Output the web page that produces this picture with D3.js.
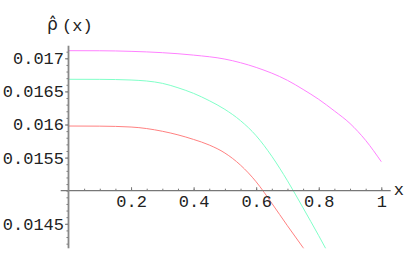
<!DOCTYPE html>
<html>
<head>
<meta charset="utf-8">
<script src="https://cdn.jsdelivr.net/npm/d3@7"></script>
<style>
  body { margin: 0; background: #fff; }
  svg { display: block; }
  .tick text { font-family: "Liberation Mono", monospace; font-size: 17px; fill: #222; }
</style>
</head>
<body>
<div id="chart"></div>
<script>
// values
let xMagenta = [0, 0.1, 0.2, 0.3, 0.4, 0.5, 0.6, 0.7, 0.75, 0.8, 0.85, 0.9, 0.95, 1.0];
let yMagenta = [0.017115, 0.017114, 0.017105, 0.017085, 0.017048, 0.016988, 0.016862, 0.016667, 0.01653, 0.01638, 0.016205, 0.016015, 0.01576, 0.015438];
let xCyan = [0, 0.1, 0.2, 0.3, 0.35, 0.4, 0.45, 0.5, 0.55, 0.6, 0.65, 0.7, 0.75, 0.8, 0.83];
let yCyan = [0.016683, 0.016682, 0.016672, 0.016622, 0.016555, 0.01647, 0.01636, 0.016228, 0.016058, 0.01583, 0.01552, 0.01515, 0.01474, 0.01432, 0.01406];
let xRed = [0, 0.1, 0.2, 0.3, 0.4, 0.45, 0.5, 0.55, 0.6, 0.65, 0.7, 0.75, 0.77];
let yRed = [0.015977, 0.015975, 0.015962, 0.015898, 0.015774, 0.01569, 0.015569, 0.015386, 0.015134, 0.01481, 0.01447, 0.01414, 0.01401];

let xTicks = [0.2, 0.4, 0.6, 0.8, 1];
let xMinor = d3.range(1, 21).map(i => i * 0.05);
let yTicks = [0.0145, 0.0155, 0.016, 0.0165, 0.017];
let yMinor = d3.range(142, 172).map(i => i / 10000);
let xExtent = [-0.025, 1.03];
let yExtent = [0.01413, 0.01719];

const width = 416, height = 257;

const svg = d3.select("#chart").append("svg")
    .attr("width", width)
    .attr("height", height);

const x = d3.scaleLinear().domain([0, 1]).range([68.5, 381.3]);
const y = d3.scaleLinear().domain([0.015, 0.017]).range([190.7, 58.3]);

// clip curves to the plot range
svg.append("clipPath").attr("id", "clip")
    .append("rect")
    .attr("x", x(0))
    .attr("y", y(yExtent[1]))
    .attr("width", x(1) - x(0) + 2)
    .attr("height", y(yExtent[0]) - y(yExtent[1]));

const line = d3.line()
    .x(d => x(d[0]))
    .y(d => y(d[1]))
    .curve(d3.curveMonotoneX);

const series = [
    [xMagenta, yMagenta, "#ff80ff"],
    [xCyan, yCyan, "#80ffc8"],
    [xRed, yRed, "#ff8080"]
];

const curves = svg.append("g").attr("clip-path", "url(#clip)");
series.forEach(s => {
    curves.append("path")
        .datum(d3.zip(s[0], s[1]))
        .attr("d", line)
        .attr("fill", "none")
        .attr("stroke", s[2])
        .attr("stroke-width", 1);
});

// x axis
const xAxisG = svg.append("g").attr("transform", `translate(0,${y(0.015)})`);
xAxisG.append("g")
    .call(d3.axisBottom(x).tickValues(xMinor).tickSize(-2).tickFormat(""))
    .call(g => g.select(".domain").remove());
xAxisG.append("g")
    .call(d3.axisBottom(x).tickValues(xTicks).tickSize(-3.5).tickPadding(4).tickFormat(d => String(d)))
    .call(g => g.select(".domain").remove());
xAxisG.selectAll("line").attr("stroke", "#777");
xAxisG.append("line")
    .attr("x1", x(xExtent[0])).attr("x2", x(xExtent[1]))
    .attr("stroke", "#777").attr("stroke-width", 1.2);

// y axis
const yAxisG = svg.append("g").attr("transform", `translate(${x(0)},0)`);
yAxisG.append("g")
    .call(d3.axisLeft(y).tickValues(yMinor).tickSize(2).tickFormat(""))
    .call(g => g.select(".domain").remove());
yAxisG.append("g")
    .call(d3.axisLeft(y).tickValues(yTicks).tickSize(3.5).tickPadding(1).tickFormat(d => String(d)))
    .call(g => g.select(".domain").remove());
yAxisG.selectAll("line").attr("stroke", "#777");
yAxisG.append("line")
    .attr("y1", y(yExtent[0])).attr("y2", y(yExtent[1]))
    .attr("stroke", "#888").attr("stroke-width", 1.8);

// axis labels
svg.append("text")
    .attr("x", x(xExtent[1]) + 3)
    .attr("y", y(0.015) + 4.5)
    .style("font-family", "Liberation Mono, monospace")
    .style("font-size", "17px")
    .attr("fill", "#222")
    .text("x");

const title = svg.append("text")
    .attr("x", 47)
    .attr("y", 30)
    .attr("fill", "#222");
title.append("tspan")
    .style("font-family", "DejaVu Sans, sans-serif")
    .style("font-size", "17px")
    .text("ρ\u0302");
title.append("tspan")
    .attr("x", 62)
    .attr("dy", 1)
    .style("font-family", "Liberation Mono, monospace")
    .style("font-size", "17px")
    .text("(x)");
</script>
</body>
</html>
